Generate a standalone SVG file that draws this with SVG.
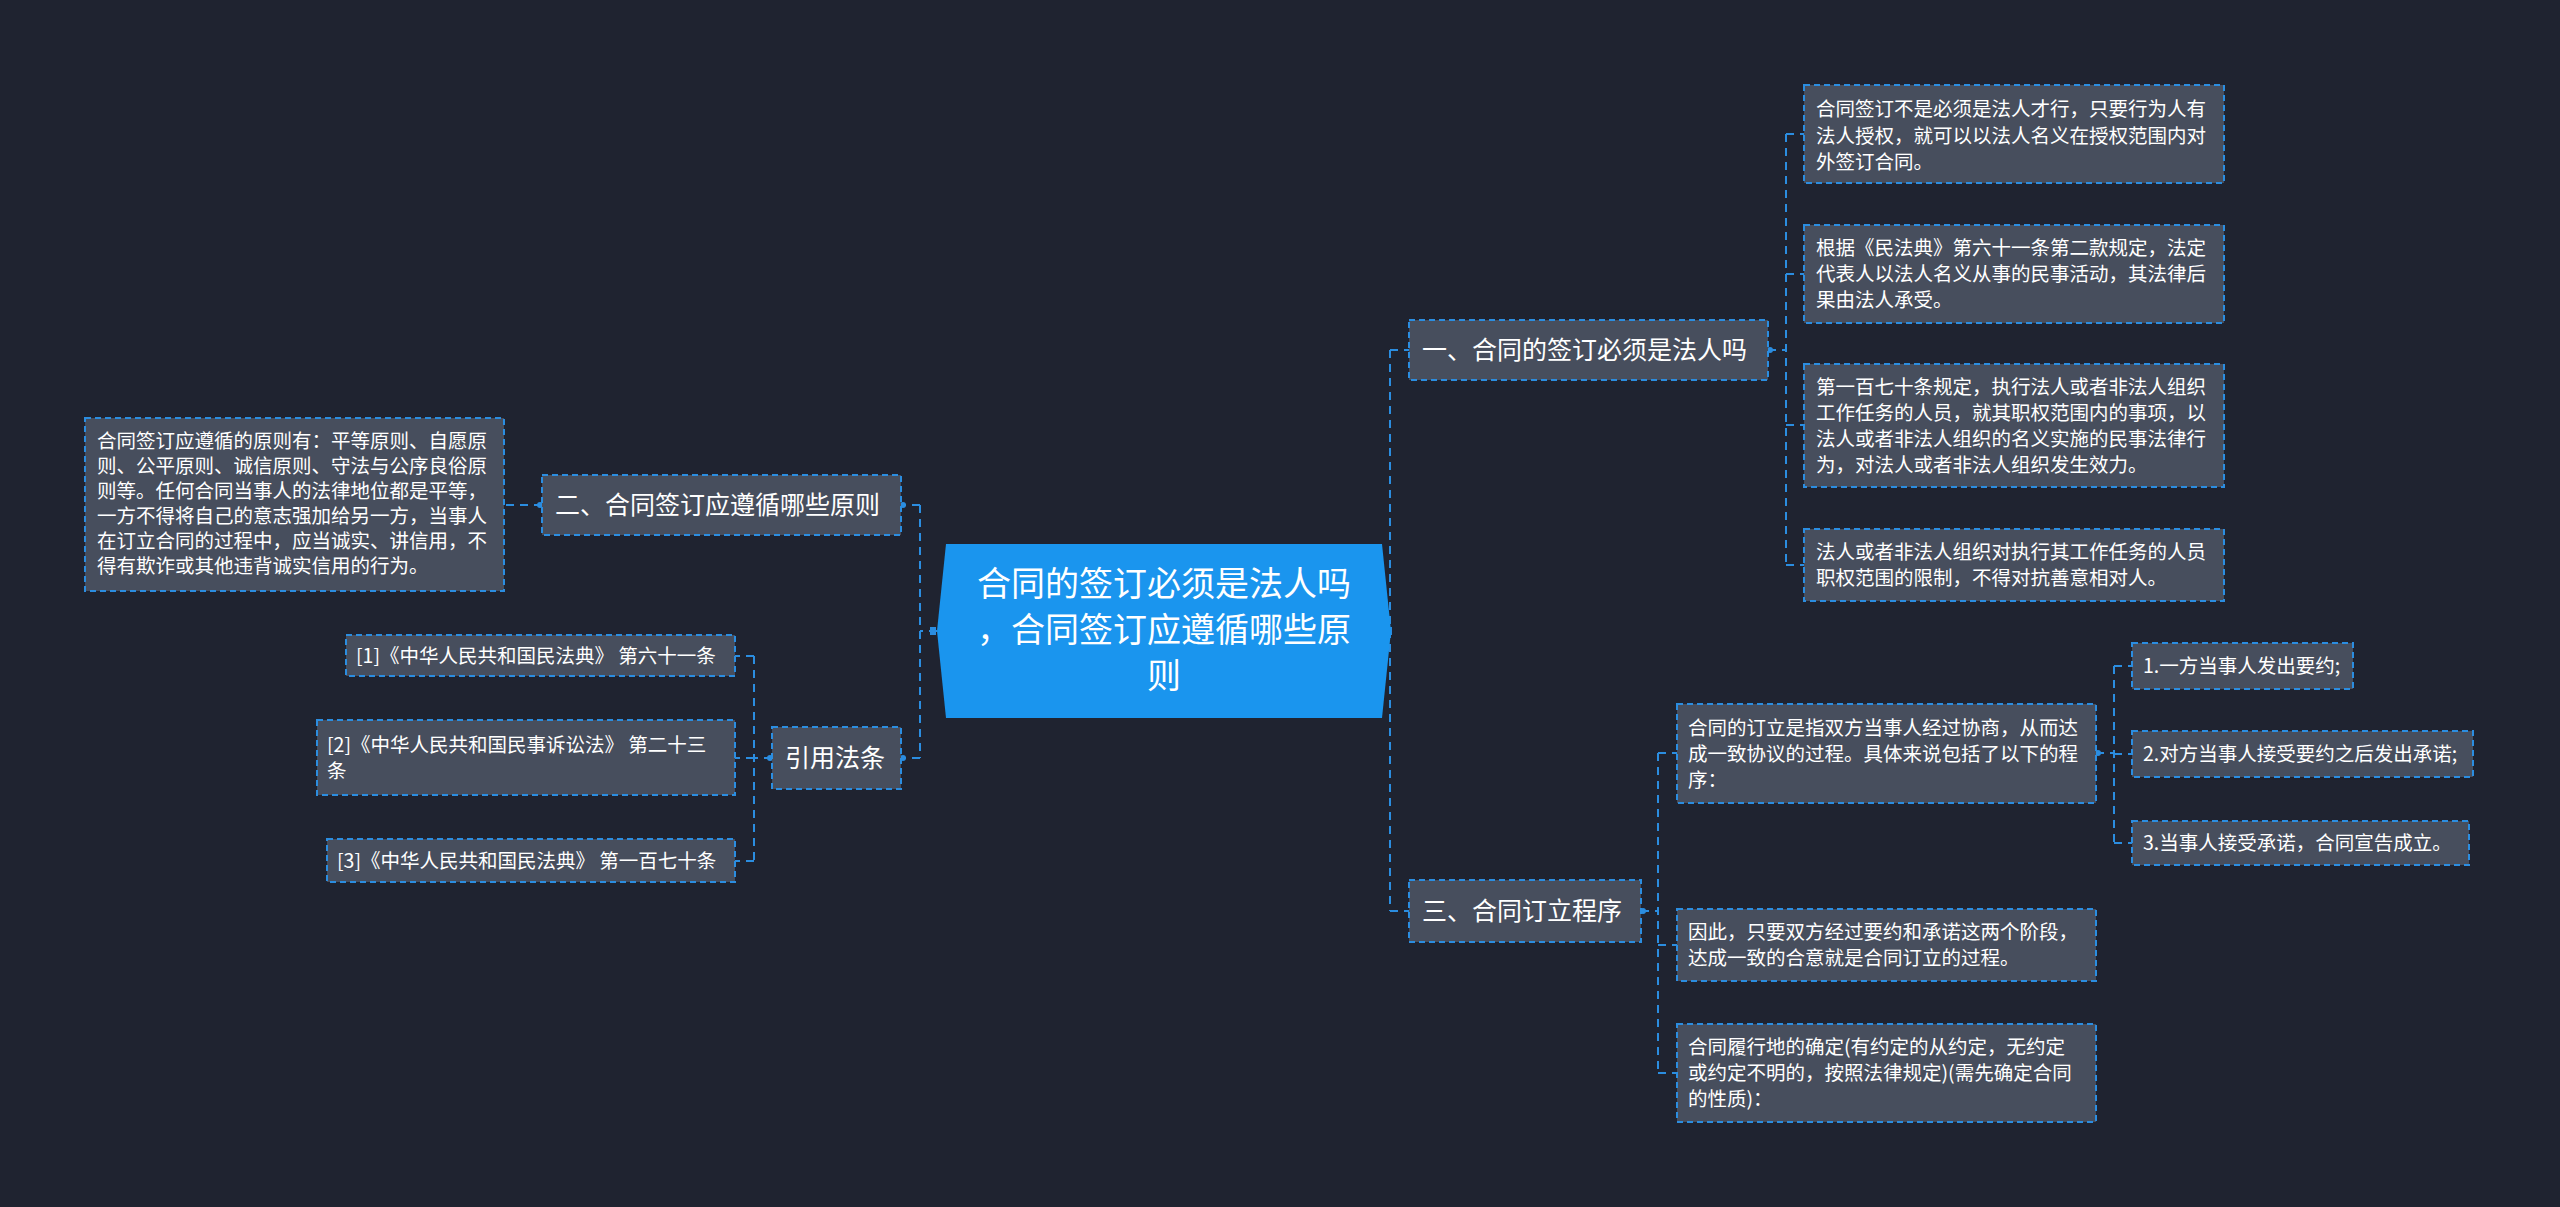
<svg xmlns="http://www.w3.org/2000/svg" width="2560" height="1207" viewBox="0 0 2560 1207">
<style>
text{font-family:"Noto Sans CJK SC","Noto Sans",sans-serif;fill:#ffffff}
.b{fill:#474e5d;stroke:#2b8de0;stroke-width:2;stroke-dasharray:6 4}
.t{font-size:19.5px}
.m{font-size:25px}
.c{fill:none;stroke:#2b8de0;stroke-width:2;stroke-dasharray:8 6}
.d{fill:#2b8de0}
</style>
<rect width="2560" height="1207" fill="#1f2330"/>
<g id="connectors">
<path class="c" d="M1391 631H1390M1390 350V911M1390 350H1409M1390 911H1409"/>
<path class="c" d="M1768 350H1786M1786 134V565M1786 134H1804M1786 274H1804M1786 425H1804M1786 565H1804"/>
<path class="c" d="M1641 911H1658M1658 753V1073M1658 753H1677M1658 945H1677M1658 1073H1677"/>
<path class="c" d="M2096 753H2114M2114 666V843M2114 666H2132M2114 754H2132M2114 843H2132"/>
<path class="c" d="M937 631H920M920 505V758M920 505H901M920 758H901"/>
<path class="c" d="M542 505H504"/>
<path class="c" d="M772 758H754M754 656V861M754 656H735M754 758H735M754 861H735"/>
<g class="d">
<rect x="1386" y="627" width="6" height="8"/><rect x="930" y="627" width="6" height="8"/>
<circle cx="1770" cy="350" r="3"/><circle cx="1643" cy="911" r="3"/><circle cx="2098" cy="753" r="3"/>
<circle cx="903" cy="505" r="3"/><circle cx="903" cy="758" r="3"/><circle cx="540" cy="505" r="3"/><circle cx="770" cy="758" r="3"/>
</g>
</g>
<g id="root">
<polygon points="946,544 1382,544 1391,631 1382,718 946,718 937,631" fill="#1a95ee"/>
<text x="1164" y="596" font-size="34" text-anchor="middle">合同的签订必须是法人吗</text>
<text x="1164" y="642" font-size="34" text-anchor="middle">，合同签订应遵循哪些原</text>
<text x="1164" y="688" font-size="34" text-anchor="middle">则</text>
</g>
<g id="n1"><rect class="b" x="1409" y="320" width="359" height="60"/><text class="m" x="1422" y="359">一、合同的签订必须是法人吗</text></g>
<g id="n2"><rect class="b" x="542" y="475" width="359" height="60"/><text class="m" x="555" y="514">二、合同签订应遵循哪些原则</text></g>
<g id="n3"><rect class="b" x="1409" y="880" width="232" height="62"/><text class="m" x="1422" y="920">三、合同订立程序</text></g>
<g id="n4"><rect class="b" x="772" y="727" width="129" height="62"/><text class="m" x="785" y="767">引用法条</text></g>
<g id="l1"><rect class="b" x="85" y="418" width="419" height="173"/>
<text class="t" x="97" y="448">合同签订应遵循的原则有：平等原则、自愿原</text>
<text class="t" x="97" y="473">则、公平原则、诚信原则、守法与公序良俗原</text>
<text class="t" x="97" y="498">则等。任何合同当事人的法律地位都是平等，</text>
<text class="t" x="97" y="523">一方不得将自己的意志强加给另一方，当事人</text>
<text class="t" x="97" y="548">在订立合同的过程中，应当诚实、讲信用，不</text>
<text class="t" x="97" y="573">得有欺诈或其他违背诚实信用的行为。</text>
</g>
<g id="r1"><rect class="b" x="346" y="635" width="389" height="41"/><text class="t" x="356" y="663">[1]《中华人民共和国民法典》 第六十一条</text></g>
<g id="r2"><rect class="b" x="317" y="720" width="418" height="75"/><text class="t" x="327" y="752">[2]《中华人民共和国民事诉讼法》 第二十三</text><text class="t" x="327" y="778">条</text></g>
<g id="r3"><rect class="b" x="327" y="839" width="408" height="43"/><text class="t" x="337" y="868">[3]《中华人民共和国民法典》 第一百七十条</text></g>
<g id="b1"><rect class="b" x="1804" y="85" width="420" height="98"/>
<text class="t" x="1816" y="116">合同签订不是必须是法人才行，只要行为人有</text>
<text class="t" x="1816" y="143">法人授权，就可以以法人名义在授权范围内对</text>
<text class="t" x="1816" y="169">外签订合同。</text></g>
<g id="b2"><rect class="b" x="1804" y="225" width="420" height="98"/>
<text class="t" x="1816" y="255">根据《民法典》第六十一条第二款规定，法定</text>
<text class="t" x="1816" y="281">代表人以法人名义从事的民事活动，其法律后</text>
<text class="t" x="1816" y="307">果由法人承受。</text></g>
<g id="b3"><rect class="b" x="1804" y="364" width="420" height="123"/>
<text class="t" x="1816" y="394">第一百七十条规定，执行法人或者非法人组织</text>
<text class="t" x="1816" y="420">工作任务的人员，就其职权范围内的事项，以</text>
<text class="t" x="1816" y="446">法人或者非法人组织的名义实施的民事法律行</text>
<text class="t" x="1816" y="472">为，对法人或者非法人组织发生效力。</text></g>
<g id="b4"><rect class="b" x="1804" y="529" width="420" height="72"/>
<text class="t" x="1816" y="559">法人或者非法人组织对执行其工作任务的人员</text>
<text class="t" x="1816" y="585">职权范围的限制，不得对抗善意相对人。</text></g>
<g id="c1"><rect class="b" x="1677" y="704" width="419" height="99"/>
<text class="t" x="1688" y="735">合同的订立是指双方当事人经过协商，从而达</text>
<text class="t" x="1688" y="761">成一致协议的过程。具体来说包括了以下的程</text>
<text class="t" x="1688" y="787">序：</text></g>
<g id="c2"><rect class="b" x="1677" y="909" width="419" height="72"/>
<text class="t" x="1688" y="939">因此，只要双方经过要约和承诺这两个阶段，</text>
<text class="t" x="1688" y="965">达成一致的合意就是合同订立的过程。</text></g>
<g id="c3"><rect class="b" x="1677" y="1024" width="419" height="98"/>
<text class="t" x="1688" y="1054">合同履行地的确定(有约定的从约定，无约定</text>
<text class="t" x="1688" y="1080">或约定不明的，按照法律规定)(需先确定合同</text>
<text class="t" x="1688" y="1106">的性质)：</text></g>
<g id="d1"><rect class="b" x="2132" y="643" width="221" height="46"/><text class="t" x="2143" y="673">1.一方当事人发出要约;</text></g>
<g id="d2"><rect class="b" x="2132" y="731" width="341" height="46"/><text class="t" x="2143" y="761">2.对方当事人接受要约之后发出承诺;</text></g>
<g id="d3"><rect class="b" x="2132" y="821" width="337" height="44"/><text class="t" x="2143" y="850">3.当事人接受承诺，合同宣告成立。</text></g>
</svg>
